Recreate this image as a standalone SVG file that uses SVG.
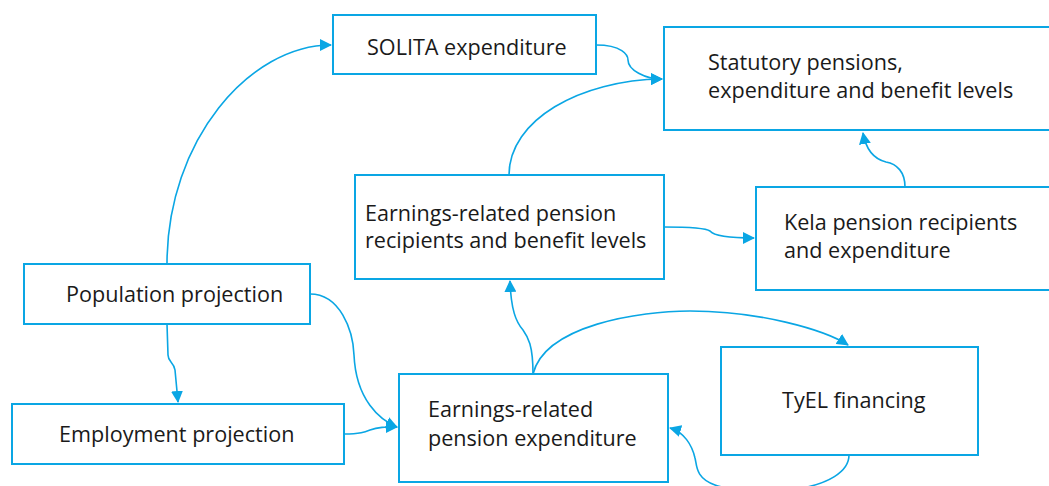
<svg xmlns="http://www.w3.org/2000/svg" width="1049" height="486" viewBox="0 0 1049 486">
<defs>
<marker id="ah" markerUnits="userSpaceOnUse" markerWidth="12" markerHeight="12" refX="11" refY="6" orient="auto">
<path d="M0,0 L12,6 L0,12 z" fill="#0aa6e4"/>
</marker>
<style>
.box{fill:#fff;stroke:#0aa6e4;stroke-width:2}
.lbl{font-family:"Open Sans","Noto Sans",sans-serif;font-size:21.6px;fill:#1a1a1a}
.c{fill:none;stroke:#0aa6e4;stroke-width:1.6;marker-end:url(#ah)}
</style>
</defs>
<rect width="1049" height="486" fill="#fff"/>
<g id="connectors">
<path class="c" d="M167,264 C167,140 250,45 331,45"/>
<path class="c" d="M596,45 C622,45 628,55 628,60 C628,70 645,79 662,79"/>
<path class="c" d="M509,175 C509,120 580,80 662,79"/>
<path class="c" d="M905,187 C905,172 897,164 886,162 C874,159 866,150 863,133"/>
<path class="c" d="M664,227 C690,227 706,228 710,231 C714,236 730,238 754,238"/>
<path class="c" d="M310,294 C340,294 353,330 354,355 C356,400 380,420 397,427"/>
<path class="c" d="M344,434 C360,434 365,432 370,430 C378,427 385,427 397,427"/>
<path class="c" d="M167,324 L168,355 C168,362 174,362 175,370 L178,402"/>
<path class="c" d="M533,374 C533,345 528,337 523,330 C516,322 511,310 510,281"/>
<path class="c" d="M533,374 C545,325 640,311 690,311 C760,311 825,330 848,345"/>
<path class="c" d="M849,455 C849,490 760,500 715,485 C695,478 697,465 695,458 C692,445 684,432 670,428"/>
</g>
<g id="solita">
<rect class="box" x="333" y="15" width="263" height="59"/>
<text class="lbl" x="367" y="55">SOLITA expenditure</text>
</g>
<g id="statutory">
<rect class="box" x="664" y="27" width="390" height="103"/>
<text class="lbl" x="708" y="70">Statutory pensions,</text>
<text class="lbl" x="708" y="98">expenditure and benefit levels</text>
</g>
<g id="recipients">
<rect class="box" x="355" y="175" width="309" height="104"/>
<text class="lbl" x="365" y="221">Earnings-related pension</text>
<text class="lbl" x="365" y="248">recipients and benefit levels</text>
</g>
<g id="kela">
<rect class="box" x="756" y="187" width="300" height="103"/>
<text class="lbl" x="784" y="230">Kela pension recipients</text>
<text class="lbl" x="784" y="258">and expenditure</text>
</g>
<g id="population">
<rect class="box" x="24" y="264" width="286" height="60"/>
<text class="lbl" x="66" y="302">Population projection</text>
</g>
<g id="employment">
<rect class="box" x="12" y="404" width="332" height="60"/>
<text class="lbl" x="59" y="442">Employment projection</text>
</g>
<g id="expenditure">
<rect class="box" x="399" y="374" width="269" height="108"/>
<text class="lbl" x="428" y="417">Earnings-related</text>
<text class="lbl" x="428" y="446">pension expenditure</text>
</g>
<g id="tyel">
<rect class="box" x="721" y="347" width="257" height="108"/>
<text class="lbl" x="782" y="408">TyEL financing</text>
</g>
</svg>
